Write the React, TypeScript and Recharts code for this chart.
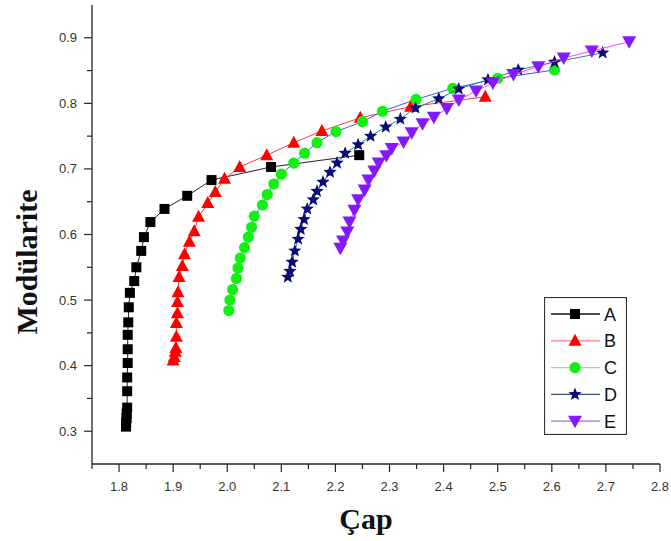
import React from 'react';
import { ComposedChart, Scatter, XAxis, YAxis, Label } from 'recharts';

type Pt = { x: number; y: number };

// Modularity (Modülarite) versus diameter (Çap) for five network configurations
const seriesA: Pt[] = [
  { x: 1.813, y: 0.307 }, { x: 1.813, y: 0.313 }, { x: 1.814, y: 0.320 }, { x: 1.814, y: 0.327 },
  { x: 1.815, y: 0.336 }, { x: 1.815, y: 0.361 }, { x: 1.815, y: 0.382 }, { x: 1.816, y: 0.404 },
  { x: 1.816, y: 0.425 }, { x: 1.816, y: 0.447 }, { x: 1.817, y: 0.466 }, { x: 1.818, y: 0.489 },
  { x: 1.820, y: 0.511 }, { x: 1.828, y: 0.529 }, { x: 1.832, y: 0.550 }, { x: 1.841, y: 0.575 },
  { x: 1.846, y: 0.596 }, { x: 1.858, y: 0.619 }, { x: 1.884, y: 0.639 }, { x: 1.926, y: 0.659 },
  { x: 1.971, y: 0.683 }, { x: 2.081, y: 0.703 }, { x: 2.244, y: 0.721 },
];

const seriesB: Pt[] = [
  { x: 1.900, y: 0.408 }, { x: 1.902, y: 0.413 }, { x: 1.904, y: 0.421 }, { x: 1.905, y: 0.427 },
  { x: 1.906, y: 0.444 }, { x: 1.906, y: 0.465 }, { x: 1.908, y: 0.480 }, { x: 1.908, y: 0.497 },
  { x: 1.909, y: 0.512 }, { x: 1.911, y: 0.535 }, { x: 1.917, y: 0.552 }, { x: 1.921, y: 0.570 },
  { x: 1.930, y: 0.589 }, { x: 1.939, y: 0.605 }, { x: 1.947, y: 0.627 }, { x: 1.964, y: 0.648 },
  { x: 1.978, y: 0.665 }, { x: 1.995, y: 0.685 }, { x: 2.023, y: 0.703 }, { x: 2.073, y: 0.721 },
  { x: 2.123, y: 0.740 }, { x: 2.175, y: 0.758 }, { x: 2.246, y: 0.778 }, { x: 2.339, y: 0.795 },
  { x: 2.477, y: 0.810 },
];

const seriesC: Pt[] = [
  { x: 2.003, y: 0.484 }, { x: 2.005, y: 0.500 }, { x: 2.010, y: 0.516 }, { x: 2.017, y: 0.533 },
  { x: 2.020, y: 0.549 }, { x: 2.024, y: 0.564 }, { x: 2.032, y: 0.580 }, { x: 2.039, y: 0.596 },
  { x: 2.045, y: 0.611 }, { x: 2.050, y: 0.628 }, { x: 2.065, y: 0.645 }, { x: 2.074, y: 0.661 },
  { x: 2.086, y: 0.677 }, { x: 2.100, y: 0.692 }, { x: 2.123, y: 0.709 }, { x: 2.143, y: 0.724 },
  { x: 2.166, y: 0.740 }, { x: 2.201, y: 0.757 }, { x: 2.250, y: 0.772 }, { x: 2.287, y: 0.788 },
  { x: 2.349, y: 0.806 }, { x: 2.417, y: 0.823 }, { x: 2.500, y: 0.838 }, { x: 2.605, y: 0.851 },
];

const seriesD: Pt[] = [
  { x: 2.112, y: 0.535 }, { x: 2.116, y: 0.544 }, { x: 2.120, y: 0.558 }, { x: 2.125, y: 0.575 },
  { x: 2.131, y: 0.593 }, { x: 2.136, y: 0.608 }, { x: 2.142, y: 0.623 }, { x: 2.148, y: 0.639 },
  { x: 2.159, y: 0.653 }, { x: 2.166, y: 0.666 }, { x: 2.177, y: 0.680 }, { x: 2.190, y: 0.695 },
  { x: 2.203, y: 0.709 }, { x: 2.218, y: 0.724 }, { x: 2.242, y: 0.737 }, { x: 2.265, y: 0.750 },
  { x: 2.293, y: 0.764 }, { x: 2.320, y: 0.776 }, { x: 2.348, y: 0.793 }, { x: 2.391, y: 0.807 },
  { x: 2.428, y: 0.822 }, { x: 2.482, y: 0.836 }, { x: 2.538, y: 0.851 }, { x: 2.605, y: 0.863 },
  { x: 2.694, y: 0.877 },
];

const seriesE: Pt[] = [
  { x: 2.209, y: 0.579 }, { x: 2.214, y: 0.590 }, { x: 2.222, y: 0.604 }, { x: 2.226, y: 0.619 },
  { x: 2.235, y: 0.637 }, { x: 2.242, y: 0.653 }, { x: 2.254, y: 0.668 }, { x: 2.261, y: 0.683 },
  { x: 2.272, y: 0.697 }, { x: 2.280, y: 0.709 }, { x: 2.294, y: 0.720 }, { x: 2.304, y: 0.731 },
  { x: 2.326, y: 0.741 }, { x: 2.341, y: 0.755 }, { x: 2.361, y: 0.769 }, { x: 2.382, y: 0.779 },
  { x: 2.406, y: 0.792 }, { x: 2.428, y: 0.805 }, { x: 2.460, y: 0.819 }, { x: 2.491, y: 0.831 },
  { x: 2.529, y: 0.844 }, { x: 2.575, y: 0.856 }, { x: 2.622, y: 0.869 }, { x: 2.674, y: 0.880 },
  { x: 2.743, y: 0.894 },
];

const xTicks = [1.75, 1.8, 1.85, 1.9, 1.95, 2.0, 2.05, 2.1, 2.15, 2.2, 2.25, 2.3, 2.35, 2.4, 2.45, 2.5, 2.55, 2.6, 2.65, 2.7, 2.75, 2.8];
const yTicks = [0.3, 0.35, 0.4, 0.45, 0.5, 0.55, 0.6, 0.65, 0.7, 0.75, 0.8, 0.85, 0.9];

const seriesNames = ['A', 'B', 'C', 'D', 'E'];

type ShapeKind = 'square' | 'triangle' | 'circle' | 'star' | 'triangleDown';

const Marker = ({ kind, cx, cy, fill }: { kind: ShapeKind; cx: number; cy: number; fill: string }) => {
  switch (kind) {
    case 'square':
      return <rect x={cx - 5} y={cy - 5} width={10} height={10} fill={fill} />;
    case 'triangle':
      return <polygon points={`${cx},${cy - 7} ${cx - 6.5},${cy + 5} ${cx + 6.5},${cy + 5}`} fill={fill} />;
    case 'circle':
      return <circle cx={cx} cy={cy} r={5.6} fill={fill} />;
    case 'star': {
      const pts: string[] = [];
      for (let i = 0; i < 10; i++) {
        const r = i % 2 === 0 ? 7 : 3;
        const a = -Math.PI / 2 + (i * Math.PI) / 5;
        pts.push(`${cx + r * Math.cos(a)},${cy + r * Math.sin(a)}`);
      }
      return <polygon points={pts.join(' ')} fill={fill} />;
    }
    case 'triangleDown':
    default:
      return <polygon points={`${cx - 7},${cy - 5.5} ${cx + 7},${cy - 5.5} ${cx},${cy + 7}`} fill={fill} />;
  }
};

const styles: { kind: ShapeKind; fill: string; line: string; legendLine: string }[] = [
  { kind: 'square', fill: '#000000', line: '#222222', legendLine: '#111111' },
  { kind: 'triangle', fill: '#ff0000', line: '#ff3a3a', legendLine: '#ff7a7a' },
  { kind: 'circle', fill: '#11f011', line: '#3a5aff', legendLine: '#7af07a' },
  { kind: 'star', fill: '#0a0a78', line: '#2a8a8a', legendLine: '#34566a' },
  { kind: 'triangleDown', fill: '#8418ff', line: '#ff40ff', legendLine: '#a560ff' },
];

const seriesData = [seriesA, seriesB, seriesC, seriesD, seriesE];

const isMajor = (v: number) => Math.round(v * 100) % 10 === 0;

const XTick = (props: any) => {
  const { x, y, payload } = props;
  const major = isMajor(payload.value);
  return (
    <g>
      <line x1={x} x2={x} y1={y} y2={y + (major ? 8 : 5)} stroke="#222" strokeWidth={1.2} />
      {major && (
        <text x={x} y={y + 27} textAnchor="middle" fontSize={13} fill="#333" fontFamily="Liberation Sans, Arial, sans-serif">
          {payload.value.toFixed(1)}
        </text>
      )}
    </g>
  );
};

const YTick = (props: any) => {
  const { x, y, payload } = props;
  const major = isMajor(payload.value);
  return (
    <g>
      <line x1={x} x2={x - (major ? 8 : 5)} y1={y} y2={y} stroke="#222" strokeWidth={1.2} />
      {major && (
        <text x={x - 15} y={y + 4.5} textAnchor="end" fontSize={13} fill="#333" fontFamily="Liberation Sans, Arial, sans-serif">
          {payload.value.toFixed(1)}
        </text>
      )}
    </g>
  );
};

const titleFont = 'Liberation Serif, Times New Roman, serif';

const LegendBox = () => (
  <svg width={83} height={138} style={{ display: 'block' }}>
    <rect x={0.5} y={0.5} width={82} height={137} fill="#fff" stroke="#333" strokeWidth={1.2} />
    {seriesNames.map((name, i) => {
      const cy = 17 + i * 26.8;
      const s = styles[i];
      return (
        <g key={name}>
          <line x1={7} x2={56} y1={cy} y2={cy} stroke={s.legendLine} strokeWidth={1.3} />
          <Marker kind={s.kind} cx={31} cy={cy} fill={s.fill} />
          <text x={60} y={cy + 6.5} fontSize={18} fill="#111" fontFamily="Liberation Sans, Arial, sans-serif">
            {name}
          </text>
        </g>
      );
    })}
  </svg>
);

export default function App() {
  return (
    <div style={{ position: 'absolute', left: 0, top: 0, width: 671, height: 541, background: '#fff' }}>
      <ComposedChart width={671} height={541} margin={{ top: 5, right: 11, left: 32, bottom: 47 }}>
        <XAxis
          type="number"
          dataKey="x"
          domain={[1.75, 2.8]}
          ticks={xTicks}
          interval={0}
          tickSize={0}
          tickMargin={0}
          tickLine={false}
          tick={<XTick />}
          height={30}
          axisLine={{ stroke: '#222', strokeWidth: 1.3 }}
          allowDataOverflow
        >
          <Label
            content={() => (
              <text x={366} y={529} textAnchor="middle" fontFamily={titleFont} fontWeight="bold" fontSize={30} fill="#111">
                Çap
              </text>
            )}
          />
        </XAxis>
        <XAxis
          xAxisId="top"
          type="number"
          orientation="top"
          domain={[1.75, 2.8]}
          height={0}
          tick={false}
          tickLine={false}
          axisLine={{ stroke: '#222', strokeWidth: 1.3 }}
        />
        <YAxis
          type="number"
          dataKey="y"
          domain={[0.25, 0.95]}
          ticks={yTicks}
          interval={0}
          tickSize={0}
          tickMargin={0}
          tickLine={false}
          tick={<YTick />}
          width={60}
          axisLine={{ stroke: '#222', strokeWidth: 1.3 }}
          allowDataOverflow
        >
          <Label
            content={() => (
              <text
                transform="translate(37,262) rotate(-90)"
                textAnchor="middle"
                fontFamily={titleFont}
                fontWeight="bold"
                fontSize={30}
                fill="#111"
              >
                Modülarite
              </text>
            )}
          />
        </YAxis>
        <YAxis
          yAxisId="right"
          type="number"
          orientation="right"
          domain={[0.25, 0.95]}
          width={0}
          tick={false}
          tickLine={false}
          axisLine={{ stroke: '#222', strokeWidth: 1.3 }}
        />
        {seriesData.map((data, i) => {
          const s = styles[i];
          return (
            <Scatter
              key={seriesNames[i]}
              name={seriesNames[i]}
              data={data}
              fill={s.fill}
              line={{ stroke: s.line, strokeWidth: 1 }}
              lineType="joint"
              isAnimationActive={false}
              shape={(p: any) => <Marker kind={s.kind} cx={p.cx} cy={p.cy} fill={s.fill} />}
            />
          );
        })}
      </ComposedChart>
      <div style={{ position: 'absolute', left: 544, top: 297 }}>
        <LegendBox />
      </div>
    </div>
  );
}
